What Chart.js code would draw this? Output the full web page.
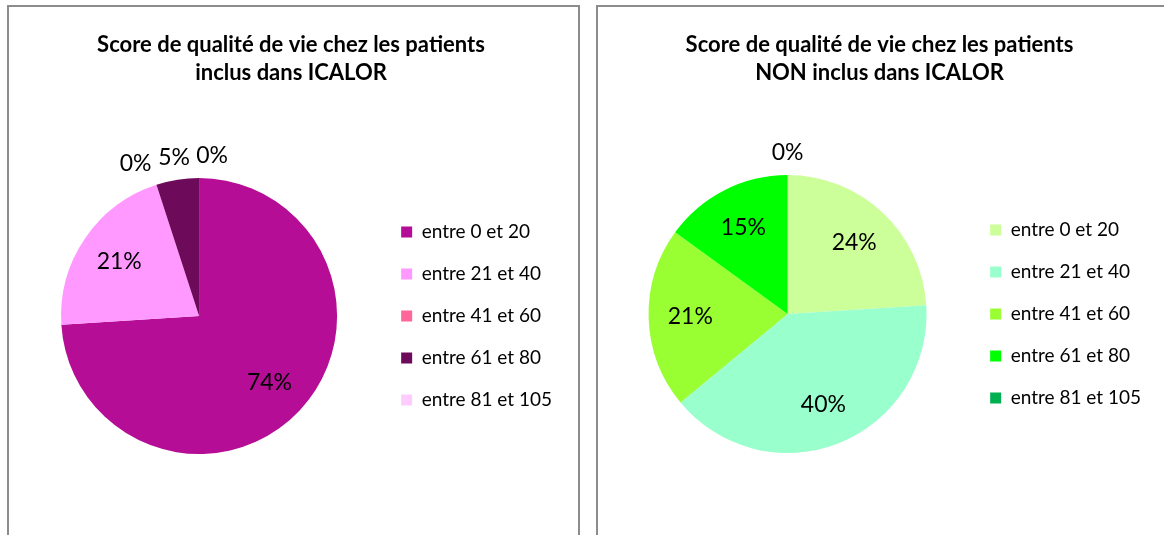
<!DOCTYPE html>
<html>
<head>
<meta charset="utf-8">
<script src="https://cdn.jsdelivr.net/npm/chart.js@4.4.1/dist/chart.umd.min.js"></script>
<style>
  html, body { margin: 0; padding: 0; background: #fff; overflow: hidden; }
  body { width: 1164px; height: 535px; position: relative; }
  .panel { position: absolute; top: 5px; border: 2px solid #8c8c8c; background: #fff; height: 600px; }
  #p1 { left: 7px; width: 569px; }
  #p2 { left: 596px; width: 620px; }
  canvas { display: block; }
</style>
</head>
<body>
<div class="panel" id="p1"><canvas id="chartIn" width="569" height="528"></canvas></div>
<div class="panel" id="p2"><canvas id="chartOut" width="566" height="528"></canvas></div>
<script>
// Score ranges
const categories = ['entre 0 et 20', 'entre 21 et 40', 'entre 41 et 60', 'entre 61 et 80', 'entre 81 et 105'];

// Percent of patients, included / not included in ICALOR
const valuesIn = [74, 21, 0, 5, 0];
const valuesOut = [24, 40, 21, 15, 0];

const titleIn = ['Score de qualité de vie chez les patients', 'inclus dans ICALOR'];
const titleOut = ['Score de qualité de vie chez les patients', 'NON inclus dans ICALOR'];

const colorsIn = ['#b50d95', '#ff99ff', '#ff6699', '#6e0a5a', '#ffccff'];
const colorsOut = ['#ccff99', '#99ffcc', '#99ff33', '#00ff00', '#00b050'];

const FONT = 'Lato, "Liberation Sans", sans-serif';

// percent labels: big slices inside, small/empty ones outside, pushed sideways if they collide
const pctLabels = {
    id: 'pctLabels',
    afterDatasetsDraw(chart) {
        const ctx = chart.ctx;
        const meta = chart.getDatasetMeta(0);
        const data = chart.data.datasets[0].data;
        ctx.save();
        ctx.font = '23px ' + FONT;
        ctx.fillStyle = '#000';
        ctx.textAlign = 'center';
        ctx.textBaseline = 'middle';
        const placed = [];
        const items = meta.data.map((arc, i) => ({ arc, i, v: data[i] }));
        const order = items.filter(d => d.v > 0).concat(items.filter(d => d.v === 0));
        order.forEach(({ arc, v }) => {
            const p = arc.getProps(['x', 'y', 'startAngle', 'endAngle', 'outerRadius'], true);
            const mid = (p.startAngle + p.endAngle) / 2;
            const d = v >= 10 ? p.outerRadius * 0.7 : p.outerRadius + 22;
            let x = p.x + Math.cos(mid) * d;
            const y = p.y + Math.sin(mid) * d;
            const txt = v + '%';
            const w = ctx.measureText(txt).width;
            const h = 22;
            const dir = x < p.x - 1 ? -1 : 1;
            const hits = () => placed.some(b => x - w / 2 < b.r + 6 && x + w / 2 > b.l - 6 && y - h / 2 < b.b && y + h / 2 > b.t);
            let guard = 0;
            while (v === 0 && hits() && guard++ < 200) x += dir;
            placed.push({ l: x - w / 2, r: x + w / 2, t: y - h / 2, b: y + h / 2 });
            ctx.fillText(txt, x, y);
        });
        ctx.restore();
    }
};

function makePie(id, title, values, colors, radius, pad, titleBottom) {
    return new Chart(document.getElementById(id), {
        type: 'pie',
        data: {
            labels: categories,
            datasets: [{
                data: values,
                backgroundColor: colors,
                borderWidth: 0
            }]
        },
        options: {
            responsive: false,
            animation: false,
            radius: radius,
            layout: { padding: pad },
            plugins: {
                title: {
                    display: true,
                    text: title,
                    color: '#000',
                    font: { family: FONT, size: 22, weight: 'bold', lineHeight: 28 / 22 },
                    padding: { top: 24, bottom: titleBottom }
                },
                legend: {
                    position: 'right',
                    fullSize: false,
                    labels: {
                        color: '#000',
                        font: { family: FONT, size: 19 },
                        boxWidth: 11,
                        boxHeight: 11,
                        padding: 23
                    }
                },
                tooltip: { enabled: false }
            }
        },
        plugins: [pctLabels]
    });
}

makePie('chartIn', titleIn, valuesIn, colorsIn, 138, { left: 11, right: 16, top: 0, bottom: 0 }, 10);
makePie('chartOut', titleOut, valuesOut, colorsOut, 139, { left: 10, right: 13, top: 0, bottom: 0 }, 6);
</script>
</body>
</html>
